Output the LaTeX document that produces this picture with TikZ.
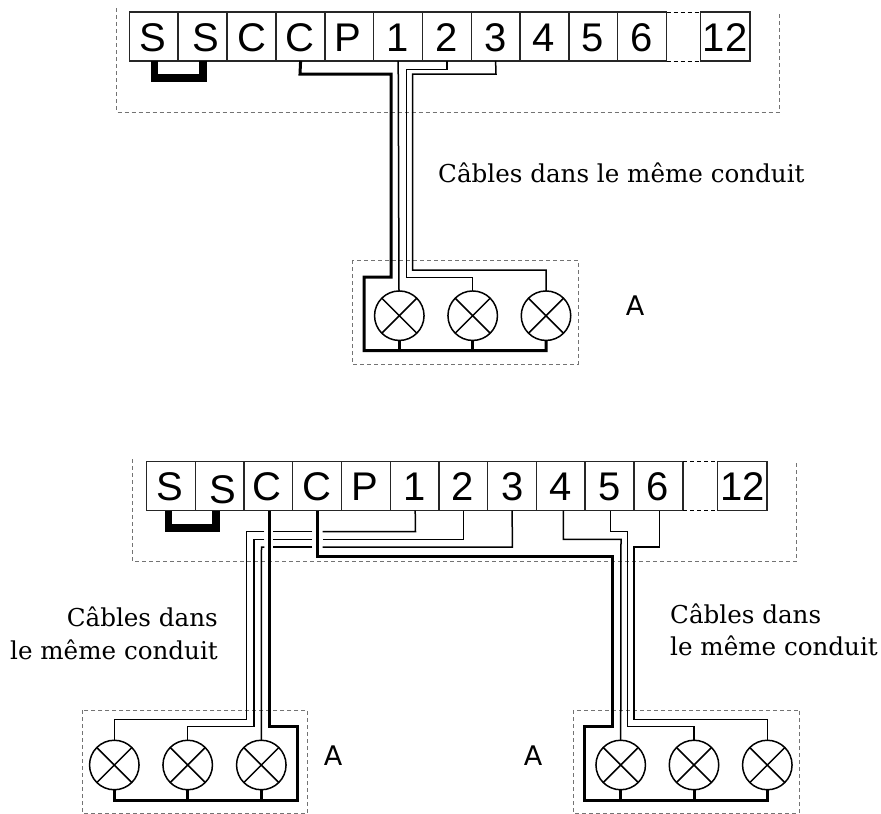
\documentclass[tikz,border=0pt]{standalone}
\usepackage{fontspec}
\setmainfont{DejaVu Serif}
\newfontfamily\termfont{Liberation Sans}
\newfontfamily\markfont{DejaVu Sans}
\definecolor{framegray}{gray}{0.45}
\tikzset{
  frm/.style={draw=framegray,line width=1pt,dash pattern=on 4pt off 3pt},
  box/.style={draw=black!85,line width=1.3pt,minimum width=#1,minimum height=49pt,inner sep=0pt,outer sep=0pt},
  box/.default=48.8pt,
  glyph/.style={anchor=base,inner sep=0pt,font=\termfont\fontsize{40}{40}\selectfont},
  lamp/.style={circle,draw=black,line width=1.5pt,minimum size=49.5pt,inner sep=0pt,outer sep=0pt,
    path picture={\draw[line width=1.5pt] (path picture bounding box.north west)--(path picture bounding box.south east)
      (path picture bounding box.north east)--(path picture bounding box.south west);}},
  thin wire/.style={draw=black,line width=1.5pt,line join=miter},
  thick wire/.style={draw=black,line width=3pt,line join=miter},
  jump wire/.style={draw=black,line width=7.5pt,line join=miter},
  captxt/.style={inner sep=0pt,font=\fontsize{24.6}{32}\selectfont},
  marka/.style={anchor=base,inner sep=0pt,font=\markfont\fontsize{27}{27}\selectfont},
}
\begin{document}
\begin{tikzpicture}[x=1pt,y=-1pt]
\useasboundingbox (0,0) rectangle (881,814);
% top frame
\draw[frm] (116.5,8) -- (116.5,112) -- (779,112) -- (779,12);
\draw[frm] (352.3,260) rectangle (578,364);
% top terminals
\foreach \n/\c/\g/\gx in {a/153.7/S/153,b/202.7/S/205.7,c/251.6/C/251.7,d/300.6/C/300,e/349.4/P/348,f/398.2/1/398,g/447/2/446.7,h/495.6/3/496,i/544.5/4/544,j/593.3/5/593,k/642.2/6/642}{
  \node[box] (T\n) at (\c,36.5) {};
  \node[glyph] (T\n t) at (\gx,51.7) {\g};
}
\node[box=49.3pt] (Tl) at (725.3,36.5) {};
\node[glyph] (Tlt) at (725,51.7) {12};
\draw[frm,draw=black] (Tk.north east) -- (Tl.north west) (Tk.south east) -- (Tl.south west);
% top lamps
\node[lamp] (L1) at (399.3,315.7) {};
\node[lamp] (L2) at (472.7,315.7) {};
\node[lamp] (L3) at (546,315.7) {};
% top wires
\draw[jump wire] (154.6,61) -- (154.6,78) -- (203,78) -- (203,61);
\draw[thick wire] (Td.south) -- (300,74) -- (391,74) -- (391,277) -- (364,277) -- (364,350.5) -- (546,350.5) -- (L3.south);
\draw[thick wire] (L1.south) -- (399.3,350.5);
\draw[thick wire] (L2.south) -- (472.7,350.5);
\draw[thin wire] (Tf.south) -- (399,291) -- (L1.north);
\draw[thin wire] (Tg.south) -- (447,69.5) -- (406.5,69.5) -- (406.5,277.7) -- (472.7,277.7) -- (L2.north);
\draw[thin wire] (Th.south) -- (496,74) -- (412.7,74) -- (412.7,270) -- (546,270) -- (L3.north);
% captions top
\node[captxt,anchor=base west] (cap1) at (438,182) {Câbles dans le même conduit};
\node[marka] (A1) at (635,315.7) {A};
% bottom frames
\draw[frm] (132.7,459) -- (132.7,561.7) -- (796,561.7) -- (796,461);
\draw[frm] (82.7,710) rectangle (307.7,813.3);
\draw[frm] (573.7,710) rectangle (799.3,813.3);
% bottom terminals
\foreach \n/\c/\g/\gx/\gy in {a/170.8/S/170/500,b/219.7/S/223/503,c/268.2/C/266.7/500,d/317.2/C/316.7/500,e/366.2/P/365/500,f/415.2/1/415/500,g/463.3/2/463/500,h/512.2/3/513/500,i/560.8/4/560.7/500,j/609.5/5/610/500,k/658.7/6/658/500}{
  \node[box] (B\n) at (\c,486.2) {};
  \node[glyph] (B\n t) at (\gx,\gy) {\g};
}
\node[box=49.3pt] (Bl) at (742.3,486.2) {};
\node[glyph] (Blt) at (742.7,500) {12};
\draw[frm,draw=black] (Bk.north east) -- (Bl.north west) (Bk.south east) -- (Bl.south west);
% bottom lamps
\node[lamp] (M1) at (114.3,765) {};
\node[lamp] (M2) at (187.7,765) {};
\node[lamp] (M3) at (261.3,765) {};
\node[lamp] (N1) at (620.7,765) {};
\node[lamp] (N2) at (694,765) {};
\node[lamp] (N3) at (767.3,765) {};
% bottom wires
\draw[jump wire] (168.3,510.7) -- (168.3,528) -- (216,528) -- (216,510.7);
\draw[thick wire] (269,510.7) -- (269,726.7) -- (297.3,726.7) -- (297.3,800) -- (114.3,800) -- (M1.south);
\draw[thick wire] (M2.south) -- (187.7,800);
\draw[thick wire] (M3.south) -- (261.3,800);
\draw[thick wire] (317.7,510.7) -- (317.7,556) -- (612.5,556) -- (612.5,726.7) -- (584.3,726.7) -- (584.3,800) -- (767.3,800) -- (N3.south);
\draw[thick wire] (N1.south) -- (620.7,800);
\draw[thick wire] (N2.south) -- (694,800);
% left wires with gaps
\draw[thin wire] (Bf.south) -- (415.5,531.7) -- (322.7,531.7);
\draw[thin wire] (312.3,531.7) -- (272.7,531.7);
\draw[thin wire] (264.3,531.7) -- (246.7,531.7) -- (246.7,719.3) -- (114.3,719.3) -- (M1.north);
\draw[thin wire] (Bg.south) -- (463.3,539.3) -- (322.7,539.3);
\draw[thin wire] (312.3,539.3) -- (272.7,539.3);
\draw[thin wire] (264.3,539.3) -- (254.2,539.3) -- (254.2,726.7) -- (187.7,726.7) -- (M2.north);
\draw[thin wire] (Bh.south) -- (512.3,547) -- (322.7,547);
\draw[thin wire] (312.3,547) -- (272.7,547);
\draw[thin wire] (264.3,547) -- (261.5,547) -- (M3.north);
% right wires
\draw[thin wire] (563.3,510.7) -- (563.3,539.3) -- (621,539.3) -- (N1.north);
\draw[thin wire] (610.3,510.7) -- (610.3,531.7) -- (627.7,531.7) -- (627.7,726.7) -- (694,726.7) -- (N2.north);
\draw[thin wire] (659.7,510.7) -- (659.7,547) -- (634,547) -- (634,719.3) -- (767.3,719.3) -- (N3.north);
% captions bottom
\node[captxt,anchor=base east] (cap2a) at (218,626.7) {Câbles dans};
\node[captxt,anchor=base east] (cap2b) at (218,659) {le même conduit};
\node[captxt,anchor=base west] (cap3a) at (670,623) {Câbles dans};
\node[captxt,anchor=base west] (cap3b) at (670,655) {le même conduit};
\node[marka] (A2) at (333,765) {A};
\node[marka] (A3) at (533,765) {A};
\end{tikzpicture}
\end{document}
